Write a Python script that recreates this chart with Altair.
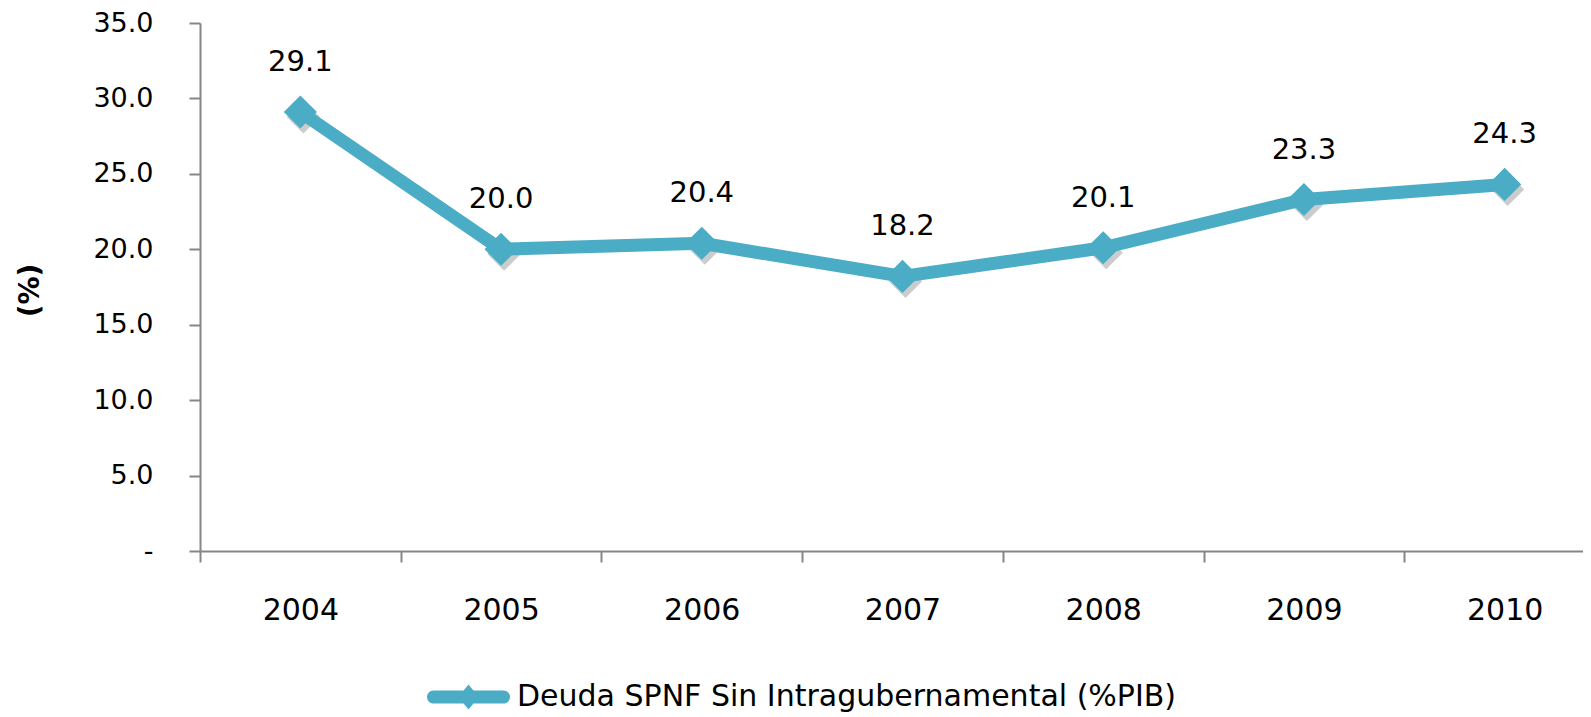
import altair as alt
import pandas as pd

years = ["2004", "2005", "2006", "2007", "2008", "2009", "2010"]
values = [29.1, 20.0, 20.4, 18.2, 20.1, 23.3, 24.3]
series_name = "Deuda SPNF Sin Intragubernamental (%PIB)"
y_ticks = [0, 5, 10, 15, 20, 25, 30, 35]

df = pd.DataFrame({"year": years, "value": values, "serie": [series_name] * len(years)})

COLOR = "#4BACC6"
FONT = "DejaVu Sans"
AXIS_GREY = "#868686"

legend_path = (
    "M-0.843,-0.157 L-0.119,-0.157 L0,-0.3 L0.119,-0.157 L0.843,-0.157 "
    "A0.157,0.157 0 0 1 0.843,0.157 L0.119,0.157 L0,0.3 L-0.119,0.157 "
    "L-0.843,0.157 A0.157,0.157 0 0 1 -0.843,-0.157 Z"
)

x_enc = alt.X(
    "year:N",
    sort=years,
    scale=alt.Scale(paddingInner=0, paddingOuter=0, range=[0, 1405]),
    axis=alt.Axis(
        title=None,
        labelAngle=0,
        tickBand="extent",
        labelPadding=33,
        labelFontSize=30,
    ),
)
y_enc = alt.Y(
    "value:Q",
    scale=alt.Scale(domain=[0, 35], nice=False, zero=True),
    axis=alt.Axis(
        title="(%)",
        values=y_ticks,
        labelExpr="datum.value == 0 ? '-' : format(datum.value, '.1f')",
        labelPadding=36,
        labelFontSize=27,
        titleFont=FONT,
        titleFontSize=28,
        titleFontWeight="bold",
        titleColor="black",
        titleAngle=270,
        titleX=-170,
        titleY=267,
        titleAlign="center",
        titleBaseline="middle",
    ),
)

base = alt.Chart(df).encode(x=x_enc, y=y_enc)

shadow = base.mark_point(
    filled=True, shape="diamond", size=1100, color="#7f7f7f", opacity=0.4,
    xOffset=3, yOffset=5,
)

line = base.mark_line(color=COLOR, strokeWidth=13, strokeJoin="round")

points = base.mark_point(filled=True, shape="diamond", size=1100, opacity=1).encode(
    color=alt.Color(
        "serie:N",
        scale=alt.Scale(range=[COLOR]),
        legend=alt.Legend(
            title=None,
            orient="none",
            legendX=227,
            legendY=632.5,
            symbolType=legend_path,
            symbolSize=6889,
            symbolStrokeWidth=0,
            symbolOpacity=1,
            labelFont=FONT,
            labelFontSize=30,
            labelColor="black",
            labelOffset=7,
            labelLimit=1000,
            padding=0,
        ),
    )
)

labels = base.mark_text(
    dy=-50, font=FONT, fontSize=29, color="black", baseline="middle", align="center"
).encode(text=alt.Text("value:Q", format=".1f"))

chart = (
    alt.layer(shadow, line, points, labels)
    .properties(
        width=1383,
        height=528,
        padding={"left": 192, "top": 15, "right": 0, "bottom": 166},
        autosize=alt.AutoSizeParams(type="none"),
    )
    .configure_view(stroke=None)
    .configure_axis(
        domainColor=AXIS_GREY,
        domainWidth=2,
        tickColor=AXIS_GREY,
        tickWidth=2,
        tickSize=11,
        grid=False,
        labelFont=FONT,
        labelColor="black",
    )
)

chart.save("out.html", embed_options={"renderer": "svg", "actions": False})
